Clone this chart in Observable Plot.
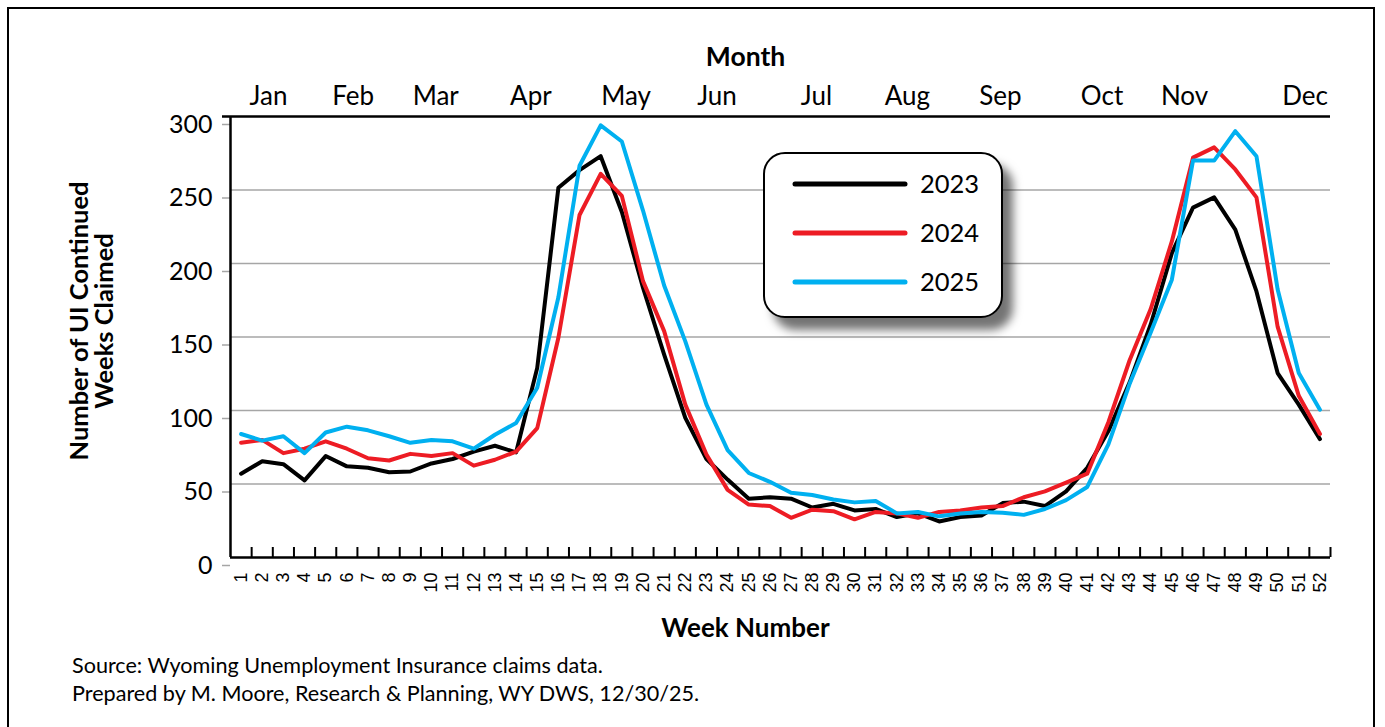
<!DOCTYPE html>
<html>
<head>
<meta charset="utf-8">
<script src="https://cdn.jsdelivr.net/npm/d3@7"></script>
<script src="https://cdn.jsdelivr.net/npm/@observablehq/plot@0.6"></script>
<style>
  html, body { margin: 0; padding: 0; background: #fff; }
  #page { position: relative; width: 1385px; height: 727px; overflow: hidden; font-family: Lato, "Open Sans", sans-serif; }
  #border { position: absolute; left: 7px; top: 7px; width: 1368px; height: 740px; border: 2.5px solid #000; box-sizing: border-box; pointer-events: none; }
  #chart { position: absolute; left: 0; top: 0; }
  #legend { position: absolute; left: 763px; top: 152px; width: 240px; height: 166px; box-sizing: border-box;
            border: 2.5px solid #000; border-radius: 22px; background: #fff;
            box-shadow: 10px 12px 10px rgba(0,0,0,0.55); }
  #caption { position: absolute; left: 72px; top: 651px; font-size: 21.6px; line-height: 28px; color: #000; }
</style>
</head>
<body>
<div id="page">
  <div id="chart"></div>
  <div id="legend"></div>
  <div id="caption">Source: Wyoming Unemployment Insurance claims data.<br>Prepared by M. Moore, Research &amp; Planning, WY DWS, 12/30/25.</div>
  <div id="border"></div>
</div>
<script>
const weeks = [1,2,3,4,5,6,7,8,9,10,11,12,13,14,15,16,17,18,19,20,21,22,23,24,25,26,
  27,28,29,30,31,32,33,34,35,36,37,38,39,40,41,42,43,44,45,46,47,48,49,50,51,52];

const claims2023 = [57,65.5,63.5,52.5,69,62,61,58,58.5,64,67,72,76,71.5,129,251.5,263.5,273,235,183.5,138,95,67,53,40,41,
  40,34,36.5,32,33,27.5,30,24.5,27.5,28.5,37,38,35,45,61,86,119,158.5,207,238,245,223,181,125.5,104,80.5];
const claims2024 = [78,80,71,74,79,74,67.5,66,70.5,69,71,62.5,66.5,72,88,149.5,233,261,246,188,154,104,70,46,36,35,
  27,32.5,31.5,26,31,30,27,31,32,34,35,41,45,51,57,92,134,169,215,272,279,264,245,157,110,84];
const claims2025 = [84,79.5,82.5,71,85,89,86.5,82.5,78,80,79,74,83.5,91.5,115.5,177,266.5,294,283,236,185,147,104,73,57.5,51.5,
  44,42.5,39.5,37.5,38.5,30,31,28,30,31,30.5,29,33,39,48,77,118,153,189,270,270,290,273,182.5,125.5,100.5];

const seriesNames = ["2023", "2024", "2025"];
const seriesColors = ["#000000", "#ED1C24", "#00B0F0"];
const seriesValues = [claims2023, claims2024, claims2025];

const months = ["Jan","Feb","Mar","Apr","May","Jun","Jul","Aug","Sep","Oct","Nov","Dec"];
const monthWeek = [2.3, 6.3, 10.2, 14.7, 19.2, 23.5, 28.2, 32.5, 36.9, 41.7, 45.6, 51.3];

const yTicks = [0, 50, 100, 150, 200, 250, 300];

const rows = [];
seriesNames.forEach((name, s) => {
  weeks.forEach((w, i) => rows.push({year: name, week: w, value: seriesValues[s][i]}));
});
const boundaries = weeks.map(w => w + 0.5);
const monthRows = months.map((m, i) => ({month: m, week: monthWeek[i]}));

const font = "Lato, 'Open Sans', sans-serif";

const chart = Plot.plot({
  width: 1385,
  height: 645,
  marginLeft: 230,
  marginRight: 55,
  marginTop: 116,
  marginBottom: 88,
  x: {type: "linear", domain: [0.5, 52.5]},
  y: {domain: [0, 300]},
  color: {domain: seriesNames, range: seriesColors},
  style: {fontFamily: font, background: "transparent", color: "#000"},
  marks: [
    Plot.gridY(yTicks.filter(d => d > 0 && d < 300), {stroke: "#a6a6a6", strokeOpacity: 1, strokeWidth: 1.5}),
    Plot.axisY(yTicks, {tickSize: 8, tickPadding: 10, fontSize: 25, stroke: "#a6a6a6", strokeWidth: 1.5, fill: "#000", dy: 8, label: null, fontFamily: font}),
    Plot.ruleY([300], {stroke: "#000", strokeWidth: 2.5, insetLeft: -8}),
    Plot.ruleY([0], {stroke: "#000", strokeWidth: 2.5}),
    Plot.ruleX([0.5], {stroke: "#000", strokeWidth: 2.5}),
    Plot.ruleX(boundaries, {x: d => d, y1: 0, y2: 0, insetTop: -10, stroke: "#000", strokeWidth: 2}),
    Plot.axisX(weeks, {tickSize: 0, tickRotate: -90, tickPadding: 15, fontSize: 18, fontFamily: "'Liberation Sans', Arial, sans-serif", label: null, tickFormat: d => String(d)}),
    Plot.line(rows, {x: "week", y: "value", z: "year", stroke: "year", strokeWidth: 4, strokeLinejoin: "round", strokeLinecap: "round"}),
    Plot.text(monthRows, {x: "week", frameAnchor: "top", text: "month", lineAnchor: "middle", dy: -20, fontSize: 26, fill: "#000"}),
    Plot.text(["Month"], {frameAnchor: "top", text: d => d, lineAnchor: "middle", dy: -59, dx: -35, fontSize: 26.5, fontWeight: "bold", fill: "#000"}),
    Plot.text(["Week Number"], {frameAnchor: "bottom", text: d => d, lineAnchor: "middle", dy: 71, dx: -35, fontSize: 26, fontWeight: "bold", fill: "#000"}),
    Plot.text(["Number of UI Continued\nWeeks Claimed"], {frameAnchor: "left", textAnchor: "middle", text: d => d, rotate: -90, dx: -138, dy: -16, lineHeight: 0.98, fontSize: 25.5, fontWeight: "bold", fill: "#000"})
  ]
});
document.getElementById("chart").appendChild(chart);

// Legend
const lg = d3.select("#legend").append("svg").attr("width", 236).attr("height", 162);
seriesNames.forEach((name, i) => {
  const cy = 30 + i * 49;
  lg.append("line").attr("x1", 30).attr("x2", 140).attr("y1", cy).attr("y2", cy)
    .attr("stroke", seriesColors[i]).attr("stroke-width", 5).attr("stroke-linecap", "round");
  lg.append("text").attr("x", 155).attr("y", cy).attr("dy", "0.35em")
    .attr("font-family", font).attr("font-size", 25.5).attr("fill", "#000").text(name);
});
</script>
</body>
</html>
